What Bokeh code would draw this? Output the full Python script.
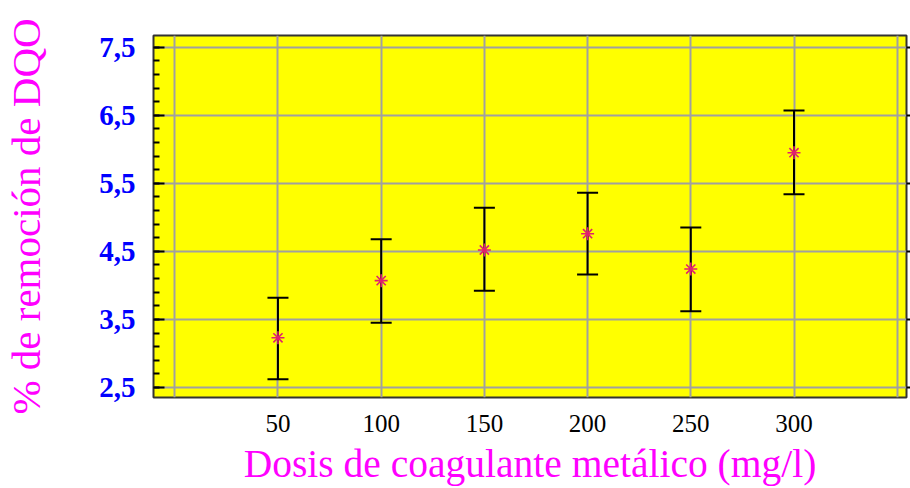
from bokeh.plotting import figure
from bokeh.models import (Range1d, FixedTicker, Whisker, TeeHead, ColumnDataSource,
                          LinearAxis)
from bokeh.embed import file_html
from bokeh.resources import INLINE

# ---- data ----
doses = [50, 100, 150, 200, 250, 300]
means = [3.23, 4.07, 4.52, 4.76, 4.24, 5.95]
upper = [3.82, 4.68, 5.14, 5.36, 4.85, 6.57]
lower = [2.62, 3.45, 3.92, 4.16, 3.62, 5.34]

x_label_ticks = [50, 100, 150, 200, 250, 300]
x_grid_ticks = [0, 50, 100, 150, 200, 250, 300, 350]
y_ticks = [2.5, 3.5, 4.5, 5.5, 6.5, 7.5]
y_tick_labels = ["2,5", "3,5", "4,5", "5,5", "6,5", "7,5"]
y_minor = [round(2.5 + 0.2 * i, 2) for i in range(0, 26)]

x_title = "Dosis de coagulante metálico (mg/l)"
y_title = "% de remoción de DQO"

SERIF = "Liberation Serif"

src = ColumnDataSource(dict(x=doses, y=means, lo=lower, hi=upper))

p = figure(width=910, height=488, output_backend="svg", toolbar_location=None,
           x_range=Range1d(-10.3, 354.5), y_range=Range1d(2.353, 7.672),
           min_border_left=153, min_border_right=4, min_border_top=35,
           min_border_bottom=91)

p.background_fill_color = "#FFFF00"
p.border_fill_color = "white"
p.outline_line_color = "#333333"
p.outline_line_width = 2

# grids
p.xgrid.ticker = FixedTicker(ticks=x_grid_ticks)
p.ygrid.ticker = FixedTicker(ticks=y_ticks)
for g in (p.xgrid, p.ygrid):
    g.grid_line_color = "#A0A0A0"
    g.grid_line_width = 2

# x axis
xa = p.xaxis[0]
xa.ticker = FixedTicker(ticks=x_label_ticks)
xa.major_tick_line_color = None
xa.minor_tick_line_color = None
xa.axis_line_color = None
xa.major_label_text_font = SERIF
xa.major_label_text_font_size = "25px"
xa.major_label_text_color = "black"
xa.major_label_standoff = 11
xa.axis_label = x_title
xa.axis_label_text_font = SERIF
xa.axis_label_text_font_style = "normal"
xa.axis_label_text_font_size = "39.5px"
xa.axis_label_text_color = "#FF00FF"
xa.axis_label_standoff = 7

# y axis
ya = p.yaxis[0]
ya.ticker = FixedTicker(ticks=y_ticks, minor_ticks=y_minor)
ya.major_label_overrides = {t: l for t, l in zip(y_ticks, y_tick_labels)}
ya.major_tick_in = 11
ya.major_tick_out = 0
ya.minor_tick_in = 6
ya.minor_tick_out = 0
ya.major_tick_line_color = "black"
ya.minor_tick_line_color = "black"
ya.major_tick_line_width = 2
ya.minor_tick_line_width = 2
ya.axis_line_color = None
ya.major_label_text_font = SERIF
ya.major_label_text_font_style = "bold"
ya.major_label_text_font_size = "29px"
ya.major_label_text_color = "#0000FF"
ya.major_label_standoff = 18
ya.axis_label = y_title
ya.axis_label_text_font = SERIF
ya.axis_label_text_font_style = "normal"
ya.axis_label_text_font_size = "41px"
ya.axis_label_text_color = "#FF00FF"
ya.axis_label_standoff = 47

# right axis: small outward ticks only
ra = LinearAxis(ticker=FixedTicker(ticks=y_ticks, minor_ticks=[]),
                major_label_overrides={t: "" for t in y_ticks},
                major_tick_in=0, major_tick_out=4, minor_tick_in=0, minor_tick_out=0,
                major_tick_line_color="black", major_tick_line_width=2,
                axis_line_color=None, major_label_standoff=0,
                major_label_text_font_size="1px")
p.add_layout(ra, "right")

# error bars
wh = Whisker(source=src, base="x", upper="hi", lower="lo",
             line_color="black", line_width=2,
             upper_head=TeeHead(size=21, line_color="black", line_width=2),
             lower_head=TeeHead(size=21, line_color="black", line_width=2))
p.add_layout(wh)

r = p.scatter("x", "y", source=src, marker="asterisk", size=13,
              line_color="#E0206F", line_width=1.6)
r.level = "overlay"

open("out.html", "w").write(file_html(p, INLINE))
